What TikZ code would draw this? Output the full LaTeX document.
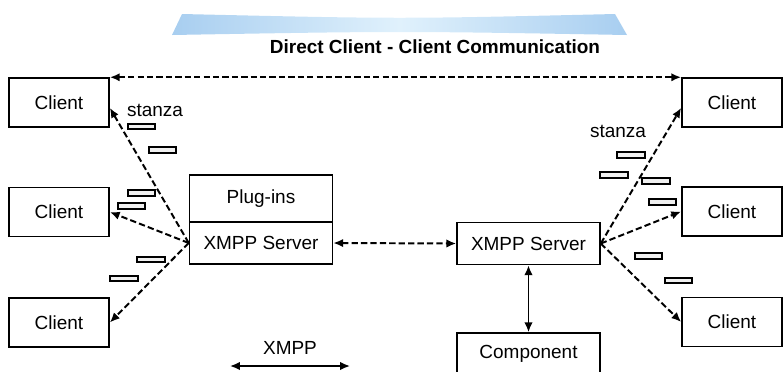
\documentclass[tikz,border=0pt]{standalone}
\usepackage{fontspec}
\setmainfont{Liberation Sans}
\usetikzlibrary{arrows.meta, positioning}

\definecolor{bannerblue}{RGB}{168,206,240}
\definecolor{bannerlight}{RGB}{224,241,252}

\begin{document}
\begin{tikzpicture}[x=0.025cm, y=-0.025cm,
    >={Latex[length=7pt,width=6pt]},
    font=\fontsize{13.5}{16}\selectfont,
    box/.style={draw=black, line width=1.2pt, fill=white, minimum width=2.5cm, minimum height=1.22cm, inner sep=0pt},
    srvbox/.style={box, minimum width=3.57cm, minimum height=1.05cm},
    packet/.style={draw=black, line width=1.3pt, fill=gray!12, minimum width=0.68cm, minimum height=0.14cm, inner sep=0pt},
    msg/.style={line width=1.4pt, dash pattern=on 4.5pt off 2.2pt},
    link/.style={line width=1.2pt}]
    \useasboundingbox (0,0) rectangle (783,371);
    \clip (0,0) rectangle (783,371);

    % banner and title
    \shade[left color=bannerblue, right color=bannerblue, middle color=bannerlight]
        (182,14) .. controls (400,19) .. (615,14) -- (627,35)
        .. controls (400,31) .. (172,35) -- cycle;
    \node[font=\fontsize{13.5}{16}\selectfont\bfseries] (title) at (435,47) {Direct Client - Client Communication};

    % clients
    \node[box] (ltop) at (59,102.5) {Client};
    \node[box] (lmid) at (59,212) {Client};
    \node[box] (lbot) at (59,322.5) {Client};
    \node[box] (rtop) at (732,102.5) {Client};
    \node[box] (rmid) at (732,211.5) {Client};
    \node[box] (rbot) at (732,322) {Client};

    % servers
    \node[srvbox] (lsrv) at (261,243) {XMPP Server};
    \node[srvbox, minimum height=1.17cm, above=-1.2pt of lsrv] (plug) {Plug-ins};
    \node[srvbox] (rsrv) at (528.5,243.5) {XMPP Server};
    \node[srvbox] (comp) at (528.5,354) {Component};

    \node (lstanza) at (155,110) {stanza};
    \node (rstanza) at (618,131) {stanza};

    \foreach \px/\py [count=\i] in {141.5/126.5, 162.5/150, 141.5/193, 131.5/206, 151/259.5, 124/278.5,
        631/155, 614/175, 656/181, 662.5/202, 648.5/256, 678.5/280.5}
        \node[packet] (pk\i) at (\px,\py) {};

    % messages
    \draw[msg, <->] (ltop.north east) -- (rtop.north west);
    \draw[msg, <->] (lsrv.east) -- (rsrv.west);
    \draw[msg, ->] (lsrv.west) -- (ltop.-6);
    \draw[msg, ->] (lsrv.west) -- (lmid.east);
    \draw[msg, ->] (lsrv.west) -- (lbot.east);
    \draw[msg, ->] (rsrv.east) -- (rtop.186);
    \draw[msg, ->] (rsrv.east) -- (rmid.west);
    \draw[msg, ->] (rsrv.east) -- (rbot.west);
    \draw[link, <->] (rsrv.south) -- (comp.north);

    % legend
    \coordinate (xa) at (230,366);
    \coordinate (xb) at (350,366);
    \node (xmpp) at (290,348) {XMPP};
    \draw[link, <->] (xa) -- (xb);
\end{tikzpicture}
\end{document}
